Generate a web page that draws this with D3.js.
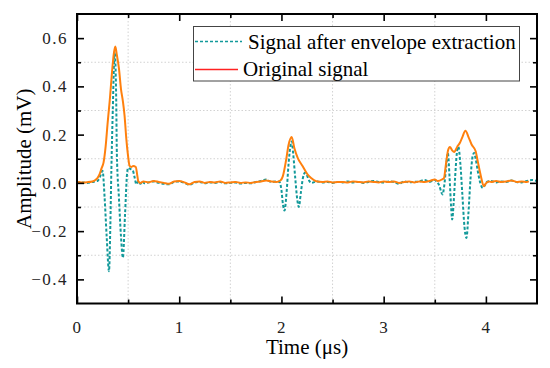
<!DOCTYPE html>
<html>
<head>
  <meta charset="utf-8">
  <title>Signal envelope</title>
  <script src="https://cdn.jsdelivr.net/npm/d3@7"></script>
  <style>
    body { margin: 0; background: #fff; }
    svg text { font-family: "Liberation Serif", "Times New Roman", serif; fill: #000; }
  </style>
</head>
<body>
<svg id="chart" width="550" height="368"></svg>
<script>
  // dashed teal trace ("Signal after envelope extraction")
  var envTime = [0, 0.05, 0.10, 0.15, 0.20, 0.22, 0.25, 0.27, 0.29, 0.313, 0.326, 0.336, 0.35, 0.368, 0.383, 0.39,
    0.41, 0.43, 0.449, 0.47, 0.49, 0.50, 0.52, 0.545, 0.565, 0.58, 0.60, 0.62, 0.64, 0.66, 0.70, 0.75, 0.80, 0.85,
    0.90, 0.95, 1.00, 1.05, 1.10, 1.15, 1.20, 1.25, 1.30, 1.35, 1.40, 1.45, 1.50, 1.55, 1.60, 1.65, 1.70, 1.75,
    1.80, 1.85, 1.90, 1.95, 1.98, 2.00, 2.015, 2.03, 2.05, 2.07, 2.09, 2.10, 2.115, 2.135, 2.155, 2.17, 2.19, 2.21,
    2.23, 2.25, 2.27, 2.29, 2.35, 2.40, 2.45, 2.50, 2.55, 2.60, 2.65, 2.70, 2.75, 2.80, 2.85, 2.90, 2.95, 3.00,
    3.05, 3.10, 3.15, 3.20, 3.25, 3.30, 3.35, 3.40, 3.45, 3.50, 3.52, 3.545, 3.565, 3.576, 3.59, 3.61, 3.628,
    3.645, 3.66, 3.67, 3.685, 3.70, 3.715, 3.73, 3.75, 3.77, 3.79, 3.81, 3.83, 3.85, 3.87, 3.885, 3.90, 3.92,
    3.945, 3.97, 3.99, 4.01, 4.05, 4.10, 4.15, 4.20, 4.25, 4.30, 4.35, 4.40, 4.45, 4.50];
  var envAmp = [0.004, 0.002, 0.0, 0.004, 0.008, 0.02, 0.05, -0.06, -0.22, -0.366, -0.18, 0.05, 0.3, 0.545, 0.36, 0.12,
    -0.06, -0.22, -0.31, -0.13, 0.04, 0.062, 0.058, 0.052, 0.02, -0.006, 0.008, -0.004, 0.006, -0.002, 0.002, 0.006, 0.0, -0.004,
    -0.006, 0.004, 0.006, 0.0, -0.008, 0.002, 0.004, -0.002, 0.002, 0.0, 0.004, -0.002, 0.0, 0.002, -0.003, 0.0, -0.002, 0.004,
    0.008, 0.014, 0.004, 0.006, 0.004, -0.03, -0.09, -0.115, -0.04, 0.08, 0.16, 0.172, 0.12, 0.02, -0.07, -0.10, -0.04, 0.02,
    0.042, 0.03, 0.01, 0.0, 0.006, 0.002, 0.004, 0.0, 0.004, 0.002, 0.006, 0.002, 0.004, 0.0, 0.004, 0.008, 0.004, 0.002,
    0.006, 0.004, -0.004, 0.006, 0.002, 0.004, 0.006, 0.012, 0.004, 0.012, 0.004, -0.012, -0.04, -0.048, -0.02, 0.06, 0.124,
    0.02, -0.10, -0.152, -0.08, 0.03, 0.12, 0.15, 0.08, -0.05, -0.18, -0.228, -0.12, 0.02, 0.11, 0.124, 0.10, 0.05,
    0.0, -0.021, -0.01, 0.004, 0.008, 0.002, 0.006, 0.004, 0.01, 0.004, 0.002, 0.008, 0.012, 0.008];

  // solid orange trace ("Original signal")
  var origTime = [0, 0.05, 0.10, 0.15, 0.18, 0.20, 0.22, 0.24, 0.26, 0.28, 0.30, 0.32, 0.346, 0.36, 0.375, 0.39, 0.41,
    0.43, 0.449, 0.465, 0.483, 0.50, 0.515, 0.53, 0.55, 0.575, 0.59, 0.60, 0.62, 0.65, 0.70, 0.75, 0.80, 0.85, 0.90,
    0.95, 1.00, 1.05, 1.10, 1.15, 1.20, 1.25, 1.30, 1.35, 1.40, 1.45, 1.50, 1.55, 1.60, 1.65, 1.70, 1.75, 1.80, 1.85,
    1.90, 1.95, 1.99, 2.013, 2.046, 2.07, 2.10, 2.126, 2.16, 2.208, 2.257, 2.29, 2.34, 2.40, 2.45, 2.50, 2.55, 2.60,
    2.65, 2.70, 2.75, 2.80, 2.85, 2.90, 2.95, 3.00, 3.05, 3.10, 3.15, 3.20, 3.25, 3.30, 3.35, 3.40, 3.45, 3.50, 3.53,
    3.57, 3.59, 3.61, 3.63, 3.648, 3.67, 3.69, 3.72, 3.746, 3.77, 3.80, 3.83, 3.86, 3.90, 3.92, 3.95, 3.98, 4.00,
    4.03, 4.05, 4.10, 4.15, 4.20, 4.25, 4.30, 4.35, 4.40, 4.42];
  var origAmp = [0.004, 0.002, 0.003, 0.006, 0.012, 0.02, 0.035, 0.06, 0.085, 0.15, 0.25, 0.34, 0.476, 0.535, 0.565, 0.53, 0.476,
    0.39, 0.338, 0.28, 0.18, 0.11, 0.07, 0.066, 0.07, 0.066, 0.03, 0.006, 0.0, 0.006, 0.002, 0.008, 0.004, 0.0, -0.004,
    0.006, 0.008, 0.002, -0.006, 0.004, 0.006, 0.0, 0.004, 0.002, 0.006, 0.0, 0.002, 0.004, 0.0, 0.002, 0.0, 0.004, 0.006, 0.01,
    0.006, 0.004, 0.01, 0.027, 0.096, 0.158, 0.19, 0.145, 0.103, 0.069, 0.034, 0.02, 0.007, 0.004, 0.006, 0.002, 0.004, 0.004,
    0.002, 0.006, 0.004, 0.002, 0.006, 0.004, 0.002, 0.006, 0.004, 0.006, 0.0, 0.004, 0.006, 0.002, 0.006, 0.004, 0.008, 0.014, 0.008,
    0.014, 0.02, 0.08, 0.135, 0.149, 0.135, 0.128, 0.15, 0.166, 0.19, 0.216, 0.19, 0.159, 0.131, 0.09, 0.03, -0.014, -0.002,
    0.006, 0.004, 0.008, 0.004, 0.006, 0.01, 0.004, 0.006, 0.004, 0.006];

  var xMajor = [0, 1, 2, 3, 4];
  var xMinor = [0.5, 1.5, 2.5, 3.5];
  var yMajor = [-0.4, -0.2, 0.0, 0.2, 0.4, 0.6];
  var yMinor = [-0.3, -0.1, 0.1, 0.3, 0.5];

  var svg = d3.select('#chart');
  var pL = 77, pR = 537, pT = 14, pB = 303.5;

  var x = d3.scaleLinear().domain([0, 4.5]).range([pL, pR]);
  var y = d3.scaleLinear().domain([-0.5, 0.7]).range([pB, pT]);

  svg.append('rect').attr('width', 550).attr('height', 368).attr('fill', '#fff');

  // dotted grid on the odd (minor) positions
  var grid = svg.append('g').attr('stroke', '#d2d2d2').attr('stroke-width', 1).attr('stroke-dasharray', '1.5,2');
  grid.selectAll('.gx').data(xMinor).enter().append('line')
    .attr('x1', d => x(d)).attr('x2', d => x(d)).attr('y1', pT).attr('y2', pB);
  grid.selectAll('.gy').data(yMinor).enter().append('line')
    .attr('x1', pL).attr('x2', pR).attr('y1', d => y(d)).attr('y2', d => y(d));

  var line = function(xs, ys) {
    return d3.line()
      .x(function(d, i) { return x(xs[i]); })
      .y(function(d, i) { return y(ys[i]); })
      .curve(d3.curveMonotoneX)(ys);
  };

  var plot = svg.append('g');
  plot.append('path').attr('d', line(envTime, envAmp))
    .attr('fill', 'none').attr('stroke', '#12999a').attr('stroke-width', 2).attr('stroke-dasharray', '3,2');
  plot.append('path').attr('d', line(origTime, origAmp))
    .attr('fill', 'none').attr('stroke', '#ff800e').attr('stroke-width', 2);

  // axes, ticks pointing inward on all four sides
  var fmtY = d3.format('.1f');
  svg.append('g').attr('transform', 'translate(0,' + pB + ')')
    .call(d3.axisBottom(x).tickValues(xMajor).tickSize(-7).tickPadding(17).tickFormat(d3.format('d')));
  svg.append('g').attr('transform', 'translate(0,' + pB + ')')
    .call(d3.axisBottom(x).tickValues(xMinor).tickSize(-4).tickFormat(''));
  svg.append('g').attr('transform', 'translate(0,' + pT + ')')
    .call(d3.axisTop(x).tickValues(xMajor).tickSize(-7).tickFormat(''));
  svg.append('g').attr('transform', 'translate(0,' + pT + ')')
    .call(d3.axisTop(x).tickValues(xMinor).tickSize(-4).tickFormat(''));
  svg.append('g').attr('transform', 'translate(' + pL + ',0)')
    .call(d3.axisLeft(y).tickValues(yMajor).tickSize(-7).tickPadding(9).tickFormat(fmtY));
  svg.append('g').attr('transform', 'translate(' + pL + ',0)')
    .call(d3.axisLeft(y).tickValues(yMinor).tickSize(-4).tickFormat(''));
  svg.append('g').attr('transform', 'translate(' + pR + ',0)')
    .call(d3.axisRight(y).tickValues(yMajor).tickSize(-7).tickFormat(''));
  svg.append('g').attr('transform', 'translate(' + pR + ',0)')
    .call(d3.axisRight(y).tickValues(yMinor).tickSize(-4).tickFormat(''));

  svg.selectAll('.domain').remove();
  svg.selectAll('.tick line').attr('stroke', '#000').attr('stroke-width', 1.6);
  svg.selectAll('g').attr('font-family', null).attr('font-size', null);
  svg.selectAll('.tick text')
    .style('font-family', '"Liberation Serif", "Times New Roman", serif')
    .style('font-size', '17px')
    .style('letter-spacing', '1.5px')
    .style('fill', '#222');

  svg.append('rect').attr('x', pL).attr('y', pT).attr('width', pR - pL).attr('height', pB - pT)
    .attr('fill', 'none').attr('stroke', '#000').attr('stroke-width', 2);

  // axis titles
  svg.append('text').attr('x', (pL + pR) / 2).attr('y', 354)
    .attr('text-anchor', 'middle').attr('font-size', 21).text('Time (\u03bcs)');
  svg.append('text').attr('transform', 'translate(31,' + ((pT + pB) / 2) + ') rotate(-90)')
    .attr('text-anchor', 'middle').attr('font-size', 21).text('Amplitude (mV)');

  // legend
  var lg = svg.append('g');
  lg.append('rect').attr('x', 193.5).attr('y', 26.5).attr('width', 326).attr('height', 54.5)
    .attr('fill', '#fff').attr('stroke', '#444').attr('stroke-width', 1);
  lg.append('line').attr('x1', 195).attr('x2', 242).attr('y1', 41.5).attr('y2', 41.5)
    .attr('stroke', '#12999a').attr('stroke-width', 1.6).attr('stroke-dasharray', '3,2');
  lg.append('text').attr('x', 248).attr('y', 48.5).attr('font-size', 21).text('Signal after envelope extraction');
  lg.append('line').attr('x1', 195).attr('x2', 238).attr('y1', 69.5).attr('y2', 69.5)
    .attr('stroke', '#ff2222').attr('stroke-width', 1.6);
  lg.append('text').attr('x', 243).attr('y', 76).attr('font-size', 21).text('Original signal');
</script>
</body>
</html>
